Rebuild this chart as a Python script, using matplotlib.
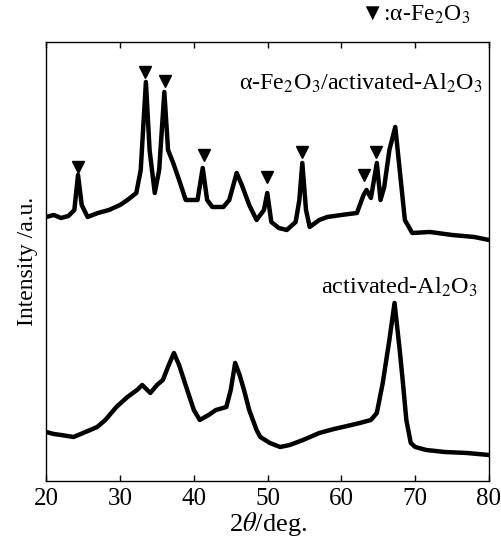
import matplotlib
matplotlib.use("Agg")
import matplotlib.pyplot as plt

plt.rcParams['font.family'] = ['Liberation Serif', 'DejaVu Serif']
plt.rcParams['mathtext.fontset'] = 'stix'

# 2theta (deg) and intensity (a.u.) for the two patterns
fe_x = [20, 21, 22, 23, 23.8, 24.3, 24.8, 25.6, 27, 28.5, 30, 31, 32.2, 32.8, 33.5, 34.0,
        34.7, 35.3, 36.0, 36.5, 37.2, 38, 38.9, 40.5, 41.2, 41.8, 42.5, 44, 44.8, 45.8,
        46.5, 47.5, 48.5, 49.5, 49.95, 50.5, 51.5, 52.6, 53.8, 54.3, 54.7, 55.2, 55.7, 57,
        58.1, 60, 62.1, 63.0, 63.4, 64.0, 64.8, 65.3, 65.8, 66.5, 67.3, 68.0, 68.6, 69.6,
        72, 75, 78, 80]
fe_y = [264, 266, 263, 265, 271, 306, 276, 264, 268, 271, 276, 281, 288, 311, 399, 331,
        288, 311, 389, 331, 318, 301, 281, 281, 313, 281, 274, 274, 281, 308,
        296, 276, 261, 271, 288, 259, 253, 251, 259, 281, 318, 271, 254, 261,
        264, 266, 268, 286, 291, 283, 318, 281, 294, 331, 354, 304, 261, 248,
        249, 246, 244, 241]

al_x = [20, 21, 22, 23.7, 25, 26.9, 28, 29.5, 31, 32.3, 33, 34.1, 35, 35.8, 36.6, 37.3,
        38, 39.1, 40, 40.8, 42, 43, 44.4, 45.0, 45.6, 46.2, 46.8, 47.5, 48.5, 49, 50.3,
        51.7, 53, 54.8, 57, 59, 60.2, 62.5, 64.0, 64.8, 65.6, 66.5, 67.2, 67.9, 68.3,
        68.8, 69.4, 70, 71.5, 74, 77, 80]
al_y = [49, 47, 46, 44, 48, 54, 61, 74, 84, 91, 96, 88, 96, 101, 116, 128,
        116, 91, 71, 61, 66, 71, 74, 91, 118, 106, 91, 71, 51, 44, 38,
        34, 36, 41, 48, 52, 54, 58, 61, 68, 98, 141, 178, 131, 101,
        61, 38, 34, 31, 29, 28, 26]

# alpha-Fe2O3 peak markers
mark_x = [24.25, 33.4, 36.1, 41.4, 49.95, 54.7, 63.05, 64.7]
mark_y = [314, 409, 400, 326, 304, 329, 306, 329]

fig = plt.figure(figsize=(5.01, 5.43), dpi=100)
ax = fig.add_axes([0.0924, 0.1142, 0.976 - 0.0924, 0.9227 - 0.1142])

ax.plot(fe_x, fe_y, color='black', lw=3.2)
ax.plot(al_x, al_y, color='black', lw=3.2)
ax.plot(mark_x, mark_y, 'v', color='black', ms=8.5, ls='none')

ax.set_xlim(20, 80)
ax.set_ylim(0, 439)
ax.set_xticks([20, 30, 40, 50, 60, 70, 80])
ax.set_yticks([])
ax.tick_params(axis='x', direction='in', top=True, length=4, width=1,
               labelsize=18, pad=5)
for s in ax.spines.values():
    s.set_linewidth(1.0)

ax.set_xlabel(r'2$\it{\theta}$/deg.', fontsize=19, labelpad=0)
ax.set_ylabel('Intensity /a.u.', fontsize=17, labelpad=6)

ax.text(0.985, 0.905, r'α-Fe$_2$O$_3$/activated-Al$_2$O$_3$', transform=ax.transAxes,
        ha='right', va='center', fontsize=17.3)
ax.text(0.975, 0.44, r'activated-Al$_2$O$_3$', transform=ax.transAxes,
        ha='right', va='center', fontsize=17.5)
ax.text(0.957, 1.062, r'▼:α-Fe$_2$O$_3$', transform=ax.transAxes,
        ha='right', va='center', fontsize=17)

fig.savefig('out.png', dpi=100)
